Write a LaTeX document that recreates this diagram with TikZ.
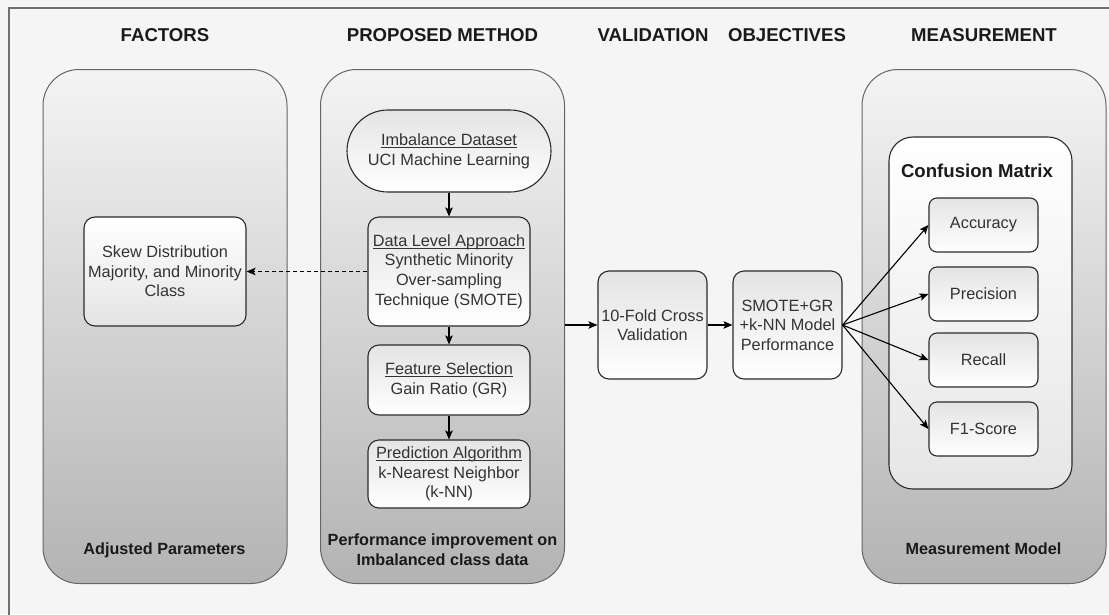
\documentclass[tikz,border=0pt]{standalone}
\usepackage{fontspec}
\setmainfont{Liberation Sans}
\usetikzlibrary{arrows.meta}
\definecolor{bg}{HTML}{F5F5F5}
\definecolor{frame}{HTML}{707070}
\definecolor{contline}{HTML}{666666}
\definecolor{contTop}{HTML}{F4F4F4}
\definecolor{contBot}{HTML}{B3B3B3}
\definecolor{boxline}{HTML}{2B2B2B}
\definecolor{boxTop}{HTML}{E4E4E4}
\definecolor{boxBot}{HTML}{FFFFFF}
\definecolor{cmBot}{HTML}{E6E6E6}
\definecolor{txt}{HTML}{333333}
\definecolor{hdr}{HTML}{1A1A1A}
\newcommand{\bodyfont}{\fontsize{16.3}{19.6}\selectfont}
\newcommand{\hdrfont}{\fontsize{18.6}{22}\selectfont\bfseries}
\newcommand{\lblfont}{\fontsize{16.2}{20}\selectfont\bfseries}
\newcommand{\myul}[1]{\setbox0\hbox{#1}\rlap{\rule[-2.4pt]{\wd0}{0.9pt}}\box0}
\begin{document}
\begin{tikzpicture}[x=1pt,y=-1pt,
  cont/.style={draw=contline, line width=1pt, rounded corners=36pt,
    top color=contTop, bottom color=contBot, minimum width=244pt,
    minimum height=514pt, inner sep=0pt},
  box/.style={draw=boxline, line width=1.1pt, rounded corners=11pt,
    top color=boxTop, bottom color=boxBot, align=center, font=\bodyfont,
    text=txt, inner sep=0pt},
  head/.style={font=\hdrfont, text=hdr, inner sep=0pt},
  lbl/.style={font=\lblfont, text=hdr, inner sep=0pt, align=center},
  conn/.style={draw=black, line width=1.1pt, -{Stealth[length=9pt,width=7.5pt,inset=2pt]}}
]
\useasboundingbox (0,0) rectangle (1109,614);
\fill[bg] (0,0) rectangle (1109,614);
\draw[frame, line width=1.4pt] (1120,8) -- (9,8) -- (9,630);

% headers
\node[head] (hfac) at (165,35) {FACTORS};
\node[head] (hprop) at (442.5,35) {PROPOSED METHOD};
\node[head] (hval) at (653,35) {VALIDATION};
\node[head] (hobj) at (787,35) {OBJECTIVES};
\node[head] (hmeas) at (984,35) {MEASUREMENT};

% containers
\node[cont] (fac) at (165,326.5) {};
\node[cont] (prop) at (442.5,326.5) {};
\node[cont] (meas) at (984,326.5) {};

\node[lbl] (facl) at (164.5,550) {Adjusted Parameters};
\node[lbl] (propl) at (442.5,550) {Performance improvement on\\Imbalanced class data};
\node[lbl] (measl) at (983.5,549) {Measurement Model};

% factors
\node[box, top color=white, bottom color=boxTop, minimum width=162pt, minimum height=109pt] (skew) at (165,271.5)
  {Skew Distribution\\Majority, and Minority\\Class};

% proposed method
\node[box, rounded corners=41pt, minimum width=204pt, minimum height=82pt] (imb) at (449,151)
  {\myul{Imbalance Dataset}\\UCI Machine Learning};
\node[box, minimum width=162pt, minimum height=109pt] (dla) at (449,271.5)
  {\myul{Data Level Approach}\\Synthetic Minority\\Over-sampling\\Technique (SMOTE)};
\node[box, minimum width=162pt, minimum height=70pt] (fs) at (449,380)
  {\myul{Feature Selection}\\Gain Ratio (GR)};
\node[box, minimum width=162pt, minimum height=68pt] (pa) at (449,474)
  {\myul{Prediction Algorithm}\\k-Nearest Neighbor\\(k-NN)};

% validation / objectives
\node[box, minimum width=109pt, minimum height=108pt] (val) at (652.5,325)
  {10-Fold Cross\\Validation};
\node[box, minimum width=109pt, minimum height=108pt] (obj) at (787.5,325)
  {SMOTE+GR\\+k-NN Model\\Performance};

% measurement
\node[draw=boxline, line width=1.1pt, rounded corners=24pt, top color=white, bottom color=cmBot, minimum width=183pt, minimum height=352pt, inner sep=0pt] (cm) at (980.5,313) {};
\node[lbl, font=\hdrfont] (cml) at (977,171) {Confusion Matrix};
\node[box, rounded corners=8pt, minimum width=109pt, minimum height=54pt] (acc) at (983.5,225) {Accuracy};
\node[box, rounded corners=8pt, minimum width=109pt, minimum height=54pt] (pre) at (983.5,294) {Precision};
\node[box, rounded corners=8pt, minimum width=109pt, minimum height=54pt] (rec) at (983.5,360) {Recall};
\node[box, rounded corners=8pt, minimum width=109pt, minimum height=54pt] (f1) at (983.5,429) {F1-Score};

% connectors
\draw[conn] (imb.south) -- (dla.north);
\draw[conn] (dla.south) -- (fs.north);
\draw[conn] (fs.south) -- (pa.north);
\draw[conn, dash pattern=on 4pt off 3pt] (dla.west) -- (skew.east);
\draw[conn] (prop.east |- val.west) -- (val.west);
\draw[conn] (val.east) -- (obj.west);
\draw[conn] (obj.east) -- (acc.west);
\draw[conn] (obj.east) -- (pre.west);
\draw[conn] (obj.east) -- (rec.west);
\draw[conn] (obj.east) -- (f1.west);
\end{tikzpicture}
\end{document}
